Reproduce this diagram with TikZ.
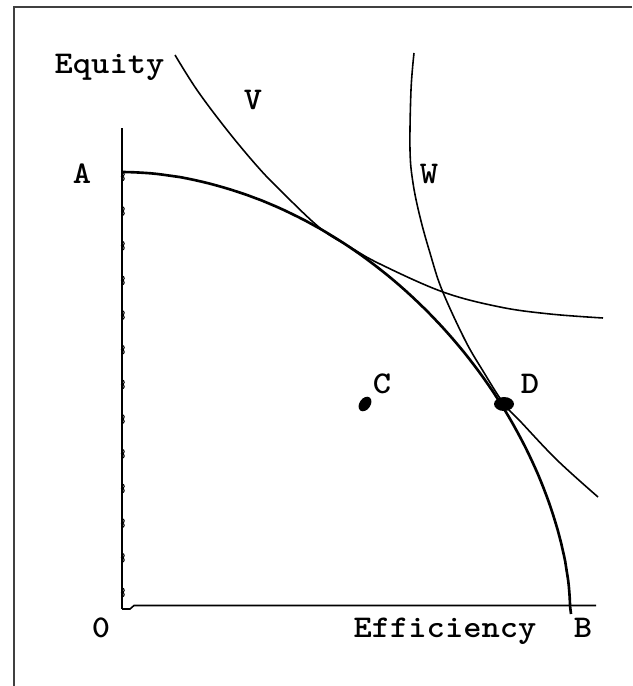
\documentclass[tikz,border=0pt]{standalone}
\usetikzlibrary{shapes.geometric}
\tikzset{
  lbl/.style={font=\ttfamily\bfseries\fontsize{18}{20}\selectfont, xscale=1.1, inner sep=0pt, anchor=base},
  curve/.style={line width=0.9pt},
  blob/.style={fill, ellipse, inner sep=0pt},
}
\begin{document}
\begin{tikzpicture}[x=0.02cm, y=-0.02cm]
  \useasboundingbox (0,0) rectangle (632,686);
  \draw[line width=0.6pt, black!75] (14,686) -- (14,7) -- (632,7);
  \coordinate (top) at (122,128);
  \coordinate (o) at (122,609);
  \coordinate (xend) at (596,605.5);
  \coordinate (bend) at (571,614);
  \draw[line width=1.6pt] (top) -- (o);
  \draw[line width=0.9pt] (o) -- ++(8,0) -- ++(4,-3.5) -- (xend);
  \foreach \k in {0,...,12}
    \draw[line width=0.6pt] (122,172+34.67*\k) arc[start angle=-90, end angle=90, radius=2.2]
      arc[start angle=-90, end angle=90, radius=2.2];
  \draw[line width=1.5pt] (bend) -- plot[domain=0.1:89.9, samples=90, variable=\t]
    ({122+448*pow(cos(\t),1.0526)},{606-434*pow(sin(\t),1.1765)});
  \draw[curve] plot[smooth, tension=0.6] coordinates {(175,55) (197,90) (227,130) (257,166)
    (280,190) (320,228) (350,247) (380,264) (443,292) (500,307) (550,314) (603,318)};
  \draw[curve] plot[smooth, tension=0.6] coordinates {(414,53) (411,90) (410,150) (413,183)
    (420,217) (430,253) (442,290) (465,340) (483,371) (504,404) (520,421) (557,460) (598,497)};
  \node[blob, minimum width=0.32cm, minimum height=0.22cm, rotate=55] (cdot) at (365,404) {};
  \node[blob, minimum width=0.4cm, minimum height=0.28cm] (ddot) at (504,404) {};
  \node[lbl] (equity) at (109.5,73) {Equity};
  \node[lbl] (v) at (253,110) {V};
  \node[lbl] (w) at (429,183) {W};
  \node[lbl] (a) at (82,183) {A};
  \node[lbl] (c) at (382,393) {C};
  \node[lbl] (d) at (530,393) {D};
  \node[lbl] (zero) at (101,637) {0};
  \node[lbl] (efficiency) at (445,637) {Efficiency};
  \node[lbl] (b) at (583,637) {B};
\end{tikzpicture}
\end{document}
